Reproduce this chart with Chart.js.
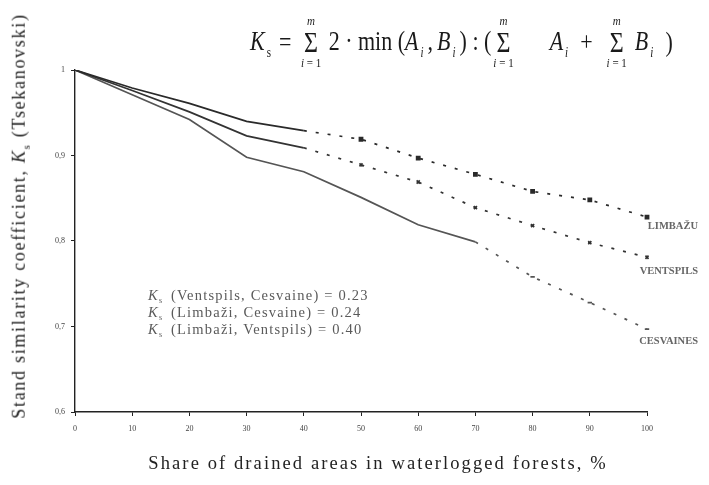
<!DOCTYPE html>
<html>
<head>
<meta charset="utf-8">
<script src="https://cdn.jsdelivr.net/npm/chart.js@4"></script>
<style>
  html, body { margin: 0; padding: 0; background: #fff; }
  #wrap { position: relative; width: 709px; height: 485px; overflow: hidden; font-family: 'Liberation Serif', 'DejaVu Serif', serif; color: #222; }
  #c { position: absolute; left: 0; top: 0; }
  .txt { position: absolute; white-space: nowrap; }
  #formula { left: 250px; top: 10px; height: 64px; font-size: 22px; display: flex; align-items: center; color: #1a1a1a; transform: scaleY(1.25); transform-origin: 0 50%; }
  .sum { display: inline-flex; flex-direction: column; align-items: center; line-height: 1; margin: 0 2px; }
  .sum .lim { font-size: 11px; transform: scaleY(0.9); }
  .sum .sig { font-size: 24px; line-height: 0.95; }
  #formula sub { font-size: 11px; vertical-align: -6px; margin: 0 4px 0 2px; }
  .ks { font-size: 14.5px; color: #5a5a5a; left: 148px; line-height: 17px; letter-spacing: 1.2px; }
  .ks sub { font-size: 8px; vertical-align: -3px; margin-right: 3px; }
  .end { font-size: 10.5px; font-weight: bold; color: #666; right: 11px; }
  #ytitle { left: 20px; top: 216px; font-size: 18px; letter-spacing: 1.7px; transform: translate(-50%, -50%) rotate(-90deg); }
  #xtitle { left: 378px; top: 463px; font-size: 18.5px; letter-spacing: 2.1px; transform: translate(-50%, -50%); }
</style>
</head>
<body>
<div id="wrap">
  <canvas id="c" width="709" height="485"></canvas>
  <div id="formula" class="txt">
    <span><i>K</i><sub>s</sub></span><span style="margin-left:4px">=&nbsp;</span>
    <span class="sum" style="margin-left:4px"><span class="lim"><i>m</i></span><span class="sig">Σ</span><span class="lim"><i>i</i> = 1</span></span>
    <span>&nbsp;2 · min (<i>A</i><sub><i>i</i></sub>,<i style="margin-left:4px">B</i><sub><i>i</i></sub>) : (</span>
    <span class="sum"><span class="lim"><i>m</i></span><span class="sig">Σ</span><span class="lim"><i>i</i> = 1</span></span>
    <span style="margin-left:34px"><i>A</i><sub><i>i</i></sub></span><span style="margin-left:8px">+</span>
    <span class="sum" style="margin-left:14px"><span class="lim"><i>m</i></span><span class="sig">Σ</span><span class="lim"><i>i</i> = 1</span></span>
    <span style="margin-left:6px"><i>B</i><sub><i>i</i></sub></span><span style="margin-left:8px">)</span>
  </div>
  <div id="ytitle" class="txt">Stand similarity coefficient, <i>K</i><sub style="font-size:11px">s</sub> (Tsekanovski)</div>
  <div id="xtitle" class="txt">Share of drained areas in waterlogged forests, %</div>
  <div class="txt ks" style="top:287px"><i>K</i><sub>s</sub> (Ventspils, Cesvaine) = 0.23</div>
  <div class="txt ks" style="top:304px"><i>K</i><sub>s</sub> (Limbaži, Cesvaine) = 0.24</div>
  <div class="txt ks" style="top:321px"><i>K</i><sub>s</sub> (Limbaži, Ventspils) = 0.40</div>
  <div class="txt end" style="top:220px">LIMBAŽU</div>
  <div class="txt end" style="top:265px">VENTSPILS</div>
  <div class="txt end" style="top:335px">CESVAINES</div>
</div>
<script>
// share of drained areas, %
var xLabels = ['0', '10', '20', '30', '40', '50', '60', '70', '80', '90', '100'];
var yTickLabels = ['0,6', '0,7', '0,8', '0,9', '1'];

// Tsekanovski similarity
var limbazu   = [1.0, 0.979, 0.961, 0.940, 0.929, 0.919, 0.897, 0.878, 0.858, 0.848, 0.828];
var ventspils = [1.0, 0.976, 0.951, 0.923, 0.909, 0.889, 0.869, 0.839, 0.818, 0.798, 0.781];
var cesvaines = [1.0, 0.971, 0.942, 0.898, 0.881, 0.851, 0.819, 0.799, 0.758, 0.728, 0.697];

// last index of the measured (solid) part
var solidEnd = { limbazu: 4, ventspils: 4, cesvaines: 7 };

function mkSeries(label, data, lastSolid, color, style) {
  return {
    label: label,
    data: data,
    borderColor: color,
    backgroundColor: color,
    borderWidth: 1.7,
    tension: 0,
    pointStyle: style,
    pointRadius: function(ctx) { return ctx.dataIndex > lastSolid ? 2.2 : 0; },
    segment: {
      borderDash: function(ctx) { return ctx.p0DataIndex >= lastSolid ? [3, 9] : undefined; }
    }
  };
}

var axisColor = '#222';
var tickFont = { family: "'Liberation Serif', serif", size: 8 };

new Chart(document.getElementById('c'), {
  type: 'line',
  data: {
    labels: xLabels,
    datasets: [
      mkSeries('LIMBAŽU', limbazu, solidEnd.limbazu, '#2a2a2a', 'rect'),
      mkSeries('VENTSPILS', ventspils, solidEnd.ventspils, '#333', 'crossRot'),
      mkSeries('CESVAINES', cesvaines, solidEnd.cesvaines, '#555', 'line')
    ]
  },
  options: {
    responsive: false,
    animation: false,
    layout: { padding: { left: 0, top: 70, right: 62, bottom: 0 } },
    plugins: { legend: { display: false }, tooltip: { enabled: false } },
    scales: {
      x: {
        type: 'category',
        offset: false,
        afterFit: function(s) { s.height = 73; },
        border: { color: axisColor, width: 1.4 },
        grid: { drawOnChartArea: false, color: axisColor, tickLength: 4 },
        ticks: { color: '#444', font: tickFont, padding: 8, maxRotation: 0 }
      },
      y: {
        min: 0.6,
        max: 1.0,
        afterFit: function(s) { s.width = 75; },
        border: { color: axisColor, width: 1.4 },
        grid: { drawOnChartArea: false, color: axisColor, tickLength: 4 },
        ticks: {
          stepSize: 0.1,
          color: '#444',
          font: tickFont,
          padding: 6,
          callback: function(v, i) { return yTickLabels[i]; }
        }
      }
    }
  }
});
</script>
</body>
</html>
